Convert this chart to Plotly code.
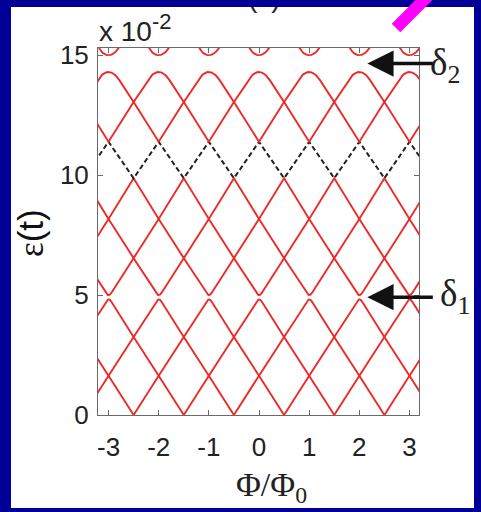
import numpy as np
import plotly.graph_objects as go

# Integer flux quanta (Phi/Phi0) where the band extrema sit
flux_int = list(range(-4, 5))

# Band levels, in units of 1e-2 t
# value of each band at integer flux and at half-integer flux
band_at_int = [1.64, 1.64, 4.82, 5.00, 8.17, 8.17, 11.39, 11.39, 14.30, 15.00]
band_at_half = [0.00, 3.25, 3.25, 6.54, 6.54, 9.87, 9.87, 13.05, 13.05, 16.25]
# where the straight branches meet at integer flux (differs only inside a gap)
branch_meet_int = [1.64, 1.64, 4.91, 4.91, 8.17, 8.17, 11.39, 11.39, 14.65, 14.65]
band_dashed = [False, False, False, False, False, False, True, False, False, False]

x_ticks = [-3, -2, -1, 0, 1, 2, 3]
x_ticktext = ["-3", "-2", "-1", "0", "1", "2", "3"]
y_ticks = [0, 5, 10, 15]
y_ticktext = ["0", "5", "10", "15"]

W, H = 481, 512
ML, MR, MT, MB = 98, 62, 48, 97
PW, PH = W - ML - MR, H - MT - MB

NAVY = "#000099"
RED = "#ec2a2a"
AXC = "#6a6a6a"
SANS = "Liberation Sans, Arial, sans-serif"
SERIF = "Liberation Serif, Times New Roman, serif"


def px_x(p):
    return (p - ML) / PW


def px_y(p):
    return (H - MB - p) / PH


def band_path(i):
    """Zig-zag through integer / half-integer flux; gap edges get a rounded apex."""
    xs, ys = [], []
    apex, meet, half = band_at_int[i], branch_meet_int[i], band_at_half[i]
    for n in flux_int:
        if abs(apex - meet) < 1e-9:
            xs.append(n)
            ys.append(apex)
        else:
            r = abs(meet - apex) / abs(meet - half)
            y_end = meet + (half - meet) * 2 * r
            t = np.linspace(0, 1, 21)
            xs += list((1 - t) ** 2 * (n - r) + 2 * (1 - t) * t * n + t ** 2 * (n + r))
            ys += list((1 - t) ** 2 * y_end + 2 * (1 - t) * t * meet + t ** 2 * y_end)
        if n != flux_int[-1]:
            xs.append(n + 0.5)
            ys.append(half)
    return xs, ys


fig = go.Figure()

for i in range(len(band_at_int)):
    bx, by = band_path(i)
    if band_dashed[i]:
        line = dict(color="#222222", width=2, dash="5px,3px")
    else:
        line = dict(color=RED, width=1.9)
    fig.add_trace(go.Scatter(x=bx, y=by, mode="lines", line=line,
                             hoverinfo="skip", showlegend=False))

axis_common = dict(
    ticks="inside", ticklen=5, tickwidth=1, tickcolor=AXC,
    showline=True, linecolor=AXC, linewidth=1, mirror="ticks",
    showgrid=False, zeroline=False,
    tickfont=dict(family=SANS, size=26, color="#222222"),
)

fig.update_layout(
    width=W, height=H,
    margin=dict(l=ML, r=MR, t=MT, b=MB),
    paper_bgcolor=NAVY, plot_bgcolor="white",
    showlegend=False,
    xaxis=dict(range=[-3.21, 3.19], tickvals=x_ticks, ticktext=x_ticktext,
               ticklabelstandoff=9, **axis_common),
    yaxis=dict(range=[0, 15.3], tickvals=y_ticks, ticktext=y_ticktext,
               ticklabelstandoff=3, **axis_common),
    shapes=[
        # white slide panel
        dict(type="rect", xref="paper", yref="paper", layer="below",
             x0=px_x(11), x1=px_x(474), y0=px_y(508), y1=px_y(7),
             fillcolor="white", line=dict(width=0)),
        # magenta pointer bar
        dict(type="line", xref="paper", yref="paper", layer="above",
             x0=px_x(396), y0=px_y(28), x1=px_x(442), y1=px_y(-18),
             line=dict(color="#ff00ff", width=12)),
    ],
)

annotations = [
    # panel label, its upper part hidden behind the border strip below
    dict(text="(c)", xref="paper", yref="paper",
         x=px_x(264), y=px_y(-2), xanchor="center", yanchor="middle",
         showarrow=False, font=dict(family=SANS, size=28, color="#222222")),
    dict(text="&nbsp;", xref="paper", yref="paper",
         x=px_x(264), y=px_y(0), xanchor="center", yanchor="top",
         width=130, height=7, borderpad=0, borderwidth=0, bgcolor=NAVY,
         showarrow=False, font=dict(size=4, color=NAVY)),
    dict(text="x 10<sup><span style='font-size:22px'>-2</span></sup>",
         xref="paper", yref="paper",
         x=px_x(97), y=px_y(28), xanchor="left", yanchor="middle",
         showarrow=False, font=dict(family=SANS, size=28, color="#222222")),
    dict(text="<span style='font-family:Liberation Serif'>ε</span>(t)",
         xref="paper", yref="paper", x=px_x(31), y=px_y(233),
         xanchor="center", yanchor="middle", textangle=-90,
         showarrow=False, font=dict(family=SANS, size=35, color="#111111")),
    dict(text="Φ/Φ<sub>0</sub>", xref="paper", yref="paper",
         x=px_x(271), y=px_y(487), xanchor="center", yanchor="middle",
         showarrow=False, font=dict(family=SERIF, size=34, color="#222222")),
    dict(text="δ<sub>2</sub>", xref="paper", yref="paper",
         x=px_x(428), y=px_y(66), xanchor="left", yanchor="middle",
         showarrow=False, font=dict(family=SERIF, size=37, color="#222222")),
    dict(text="δ<sub>1</sub>", xref="paper", yref="paper",
         x=px_x(438), y=px_y(296), xanchor="left", yanchor="middle",
         showarrow=False, font=dict(family=SERIF, size=37, color="#222222")),
]

# arrows pointing at the two gaps (at the gap centre near Phi/Phi0 = 2)
for gap_band in (8, 2):
    annotations.append(dict(
        x=2.16, y=branch_meet_int[gap_band], xref="x", yref="y",
        ax=67, ay=0, axref="pixel", ayref="pixel", text="",
        showarrow=True, arrowhead=2, arrowsize=1.5, arrowwidth=3.5,
        arrowcolor="#111111"))

fig.update_layout(annotations=annotations)

fig.write_html("out.html")
